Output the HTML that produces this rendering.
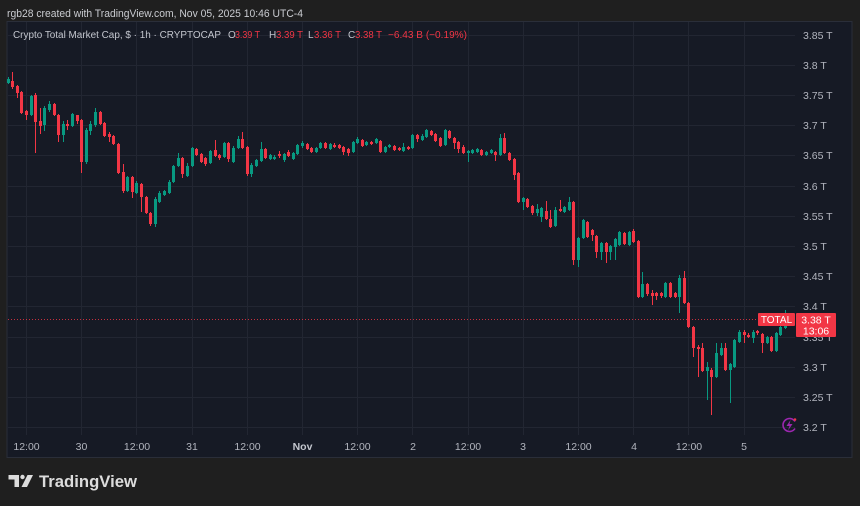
<!DOCTYPE html>
<html><head><meta charset="utf-8"><style>
html,body{margin:0;padding:0;background:#1f1f1f;}
svg{display:block;}
text{font-family:"Liberation Sans",Arial,sans-serif;}
</style></head><body>
<svg width="860" height="506" viewBox="0 0 860 506" xmlns="http://www.w3.org/2000/svg">
<rect width="860" height="506" fill="#1f1f1f"/>
<text x="7" y="17" font-size="11" fill="#c9cbd0" textLength="296" lengthAdjust="spacingAndGlyphs">rgb28 created with TradingView.com, Nov 05, 2025 10:46 UTC-4</text>
<!-- panel -->
<rect x="7" y="21.5" width="845" height="436" fill="#161a25" stroke="#2a2e39" stroke-width="1"/>
<!-- horizontal grid -->
<g stroke="#222632" stroke-width="1">
<path d="M8 35.5H795M8 65.5H795M8 95.5H795M8 125.5H795M8 155.5H795M8 186.5H795M8 216.5H795M8 246.5H795M8 276.5H795M8 306.5H795M8 337.5H795M8 367.5H795M8 397.5H795M8 427.5H795"/>
<path d="M26.5 22V435M81.5 22V435M136.5 22V435M192.5 22V435M247.5 22V435M302.5 22V435M357.5 22V435M412.5 22V435M468.5 22V435M523.5 22V435M578.5 22V435M633.5 22V435M688.5 22V435M744.5 22V435"/>
</g>
<!-- legend -->
<text x="13" y="38" font-size="10" fill="#c3c6ce" textLength="208" lengthAdjust="spacingAndGlyphs">Crypto Total Market Cap, $ · 1h · CRYPTOCAP</text>
<g font-size="10">
<text x="228" y="38" fill="#c3c6ce">O</text><text x="235" y="38" fill="#f23645" textLength="25" lengthAdjust="spacingAndGlyphs">3.39 T</text>
<text x="269" y="38" fill="#c3c6ce">H</text><text x="276" y="38" fill="#f23645" textLength="27" lengthAdjust="spacingAndGlyphs">3.39 T</text>
<text x="308" y="38" fill="#c3c6ce">L</text><text x="314" y="38" fill="#f23645" textLength="27" lengthAdjust="spacingAndGlyphs">3.36 T</text>
<text x="348" y="38" fill="#c3c6ce">C</text><text x="355" y="38" fill="#f23645" textLength="27" lengthAdjust="spacingAndGlyphs">3.38 T</text>
<text x="388" y="38" fill="#f23645" textLength="79" lengthAdjust="spacingAndGlyphs">−6.43 B (−0.19%)</text>
</g>
<!-- dotted last price line -->
<path d="M8 319.5H758" stroke="#f23645" stroke-width="1" stroke-dasharray="1 2" opacity="0.8"/>
<!-- red candles -->
<g stroke="#f23645" fill="none">
<path stroke-width="1" d="M12.5 72V89M17.5 85V98M21.5 91V114M26.5 110V120M35.5 93V153M40.5 108V134M54.5 103V116M58.5 114V142M67.5 120V130M77.5 115V124M81.5 119V173M100.5 111V125M104.5 122V137M109.5 132V142M113.5 135V145M118.5 143V174M123.5 164V193M132.5 176V198M141.5 183V212M146.5 196V214M150.5 212V226M182.5 157V178M196.5 148V156M201.5 153V163M205.5 157V166M215.5 140V157M219.5 154V160M228.5 142V162M242.5 132V149M247.5 146V176M265.5 148V159M279.5 151V158M288.5 150V157M307.5 143V150M311.5 147V153M325.5 142V149M334.5 143V148M339.5 144V149M343.5 146V155M348.5 148V156M362.5 139V147M371.5 141V145M380.5 140V153M394.5 145V151M399.5 147V151M408.5 146V150M417.5 134V142M431.5 130V136M435.5 133V142M440.5 137V147M449.5 130V139M454.5 137V149M458.5 141V153M463.5 145V154M481.5 149V156M495.5 151V161M504.5 133V154M509.5 152V161M514.5 158V180M518.5 172V203M527.5 198V208M532.5 205V215M546.5 201V220M550.5 210V228M560.5 200V212M573.5 201V265M587.5 221V238M592.5 229V241M596.5 235V258M606.5 242V263M624.5 232V245M633.5 229V243M638.5 240V298M647.5 283V296M652.5 290V305M656.5 292V300M661.5 292V298M670.5 282V298M675.5 292V298M684.5 271V304M688.5 302V328M693.5 326V357M698.5 345V377M702.5 343V372M711.5 368V415M725.5 343V371M744.5 330V343M748.5 333V338M757.5 330V335M762.5 333V353M771.5 336V352M790.5 316V325"/>
<path stroke-width="3" d="M12.5 81V87M17.5 86V93M21.5 92V113M26.5 111V115M35.5 95V122M40.5 121V126M54.5 104V115M58.5 115V135M67.5 124V126M77.5 115V121M81.5 120V162M100.5 112V124M104.5 123V136M109.5 134V137M113.5 136V144M118.5 144V173M123.5 172V191M132.5 177V192M141.5 184V197M146.5 197V213M150.5 213V224M182.5 158V174M196.5 149V155M201.5 154V162M205.5 158V164M215.5 150V156M219.5 155V158M228.5 143V159M242.5 139V148M247.5 147V174M265.5 149V158M279.5 154V156M288.5 152V156M307.5 144V149M311.5 148V152M325.5 143V148M334.5 145V147M339.5 145V148M343.5 147V152M348.5 149V153M362.5 140V146M371.5 142V144M380.5 141V152M394.5 146V150M399.5 148V150M408.5 147V149M417.5 135V139M431.5 131V135M435.5 134V141M440.5 138V146M449.5 131V138M454.5 138V143M458.5 142V149M463.5 147V153M481.5 150V155M495.5 152V155M504.5 138V153M509.5 153V160M514.5 159V175M518.5 173V202M527.5 199V207M532.5 206V213M546.5 211V219M550.5 219V227M560.5 209V211M573.5 202V260M587.5 222V237M592.5 230V235M596.5 236V252M606.5 243V252M624.5 233V244M633.5 231V242M638.5 241V297M647.5 284V294M652.5 293V296M656.5 293V296M661.5 293V296M670.5 283V297M675.5 293V297M684.5 278V303M688.5 303V327M693.5 327V348M698.5 347V349M702.5 348V371M711.5 370V377M725.5 348V370M744.5 332V335M748.5 335V337M757.5 331V333M762.5 334V343M771.5 337V351M790.5 318V323"/>
</g>
<!-- green candles -->
<g stroke="#089981" fill="none">
<path stroke-width="1" d="M8.5 77V84M31.5 95V116M44.5 106V131M49.5 101V112M63.5 121V142M72.5 113V127M86.5 128V164M90.5 121V135M95.5 108V127M127.5 176V192M136.5 181V194M155.5 197V227M159.5 191V203M164.5 190V196M169.5 180V194M173.5 165V183M178.5 153V167M187.5 163V177M192.5 147V167M210.5 150V164M224.5 142V158M233.5 146V163M238.5 136V149M251.5 163V177M256.5 159V167M261.5 142V162M270.5 154V160M274.5 155V160M284.5 153V162M293.5 152V160M297.5 144V155M302.5 141V148M316.5 147V153M320.5 142V149M330.5 143V150M353.5 141V153M357.5 137V144M366.5 141V146M376.5 138V144M385.5 146V153M389.5 144V148M403.5 143V152M412.5 134V149M422.5 134V141M426.5 129V138M445.5 129V146M468.5 150V162M472.5 149V154M477.5 148V153M486.5 151V156M491.5 149V154M500.5 134V156M523.5 197V210M537.5 204V216M541.5 207V222M555.5 207V227M564.5 206V213M569.5 197V211M578.5 237V267M583.5 219V239M601.5 242V260M610.5 245V260M615.5 238V260M619.5 231V246M629.5 231V246M642.5 272V298M665.5 282V298M679.5 275V313M707.5 362V400M716.5 343V378M721.5 343V356M730.5 363V403M734.5 339V368M739.5 330V343M753.5 330V343M767.5 336V344M776.5 332V352M780.5 326V336M785.5 310V329"/>
<path stroke-width="3" d="M8.5 79V83M31.5 96V115M44.5 108V125M49.5 104V110M63.5 124V135M72.5 114V126M86.5 130V162M90.5 124V131M95.5 112V125M127.5 177V191M136.5 183V193M155.5 199V224M159.5 193V202M164.5 191V195M169.5 182V193M173.5 166V182M178.5 158V166M187.5 166V176M192.5 148V166M210.5 151V163M224.5 143V157M233.5 148V162M238.5 139V148M251.5 165V174M256.5 160V166M261.5 149V161M270.5 155V159M274.5 157V159M284.5 154V160M293.5 153V159M297.5 145V154M302.5 143V146M316.5 148V152M320.5 143V148M330.5 144V149M353.5 142V152M357.5 139V143M366.5 142V145M376.5 139V143M385.5 147V152M389.5 145V147M403.5 147V151M412.5 135V148M422.5 136V140M426.5 130V137M445.5 130V145M468.5 151V153M472.5 150V153M477.5 149V152M486.5 152V155M491.5 150V153M500.5 138V155M523.5 198V202M537.5 209V213M541.5 208V217M555.5 210V226M564.5 207V212M569.5 202V210M578.5 238V260M583.5 220V238M601.5 243V252M610.5 246V252M615.5 239V247M619.5 232V245M629.5 232V245M642.5 284V297M665.5 283V297M679.5 278V297M707.5 367V371M716.5 353V377M721.5 348V355M730.5 364V370M734.5 340V367M739.5 332V342M753.5 332V338M767.5 337V343M776.5 333V351M780.5 327V335M785.5 322V328"/>
</g>
<!-- price axis labels -->
<g font-size="10.5" fill="#b2b5be">
<text x="803" y="39">3.85 T</text>
<text x="803" y="69">3.8 T</text>
<text x="803" y="99">3.75 T</text>
<text x="803" y="129">3.7 T</text>
<text x="803" y="159">3.65 T</text>
<text x="803" y="190">3.6 T</text>
<text x="803" y="220">3.55 T</text>
<text x="803" y="250">3.5 T</text>
<text x="803" y="280">3.45 T</text>
<text x="803" y="310">3.4 T</text>
<text x="803" y="341">3.35 T</text>
<text x="803" y="371">3.3 T</text>
<text x="803" y="401">3.25 T</text>
<text x="803" y="431">3.2 T</text>
</g>
<!-- labels -->
<rect x="758" y="313" width="37" height="13" rx="1" fill="#f23645"/>
<text x="776.5" y="323" font-size="10" fill="#ffffff" text-anchor="middle">TOTAL</text>
<rect x="796" y="313" width="40" height="24" rx="1" fill="#f23645"/>
<text x="816" y="323.5" font-size="10.5" fill="#ffffff" text-anchor="middle">3.38 T</text>
<text x="816" y="334.5" font-size="10.5" fill="#ffffff" text-anchor="middle">13:06</text>
<!-- lightning icon -->
<path d="M795 421.5A6.5 6.5 0 1 0 795 428.5" fill="none" stroke="#9c27b0" stroke-width="1.6"/>
<path d="M790.5 420L786.5 426H789.5L788 430.5L792.5 424H789.5Z" fill="#9c27b0"/>
<circle cx="795" cy="419.5" r="1.3" fill="#f23645"/>
<!-- time axis -->
<g font-size="10.5" fill="#b2b5be" text-anchor="middle">
<text x="26.5" y="450">12:00</text>
<text x="81.5" y="450">30</text>
<text x="137" y="450">12:00</text>
<text x="192" y="450">31</text>
<text x="247.5" y="450">12:00</text>
<text x="302.5" y="450" font-weight="bold" fill="#c3c6ce">Nov</text>
<text x="357.5" y="450">12:00</text>
<text x="413" y="450">2</text>
<text x="468" y="450">12:00</text>
<text x="523" y="450">3</text>
<text x="578.5" y="450">12:00</text>
<text x="634" y="450">4</text>
<text x="689" y="450">12:00</text>
<text x="744" y="450">5</text>
</g>
<!-- TradingView logo -->
<g fill="#dcdcdc">
<path d="M8.5 475H19V487H14.5V479.5H8.5Z"/>
<circle cx="22.5" cy="477" r="2.2"/>
<path d="M27.5 475H33L27 487H21.5Z"/>
</g>
<text x="39" y="487" font-size="16.5" font-weight="bold" fill="#dcdcdc" textLength="98" lengthAdjust="spacingAndGlyphs">TradingView</text>
</svg>
</body></html>
